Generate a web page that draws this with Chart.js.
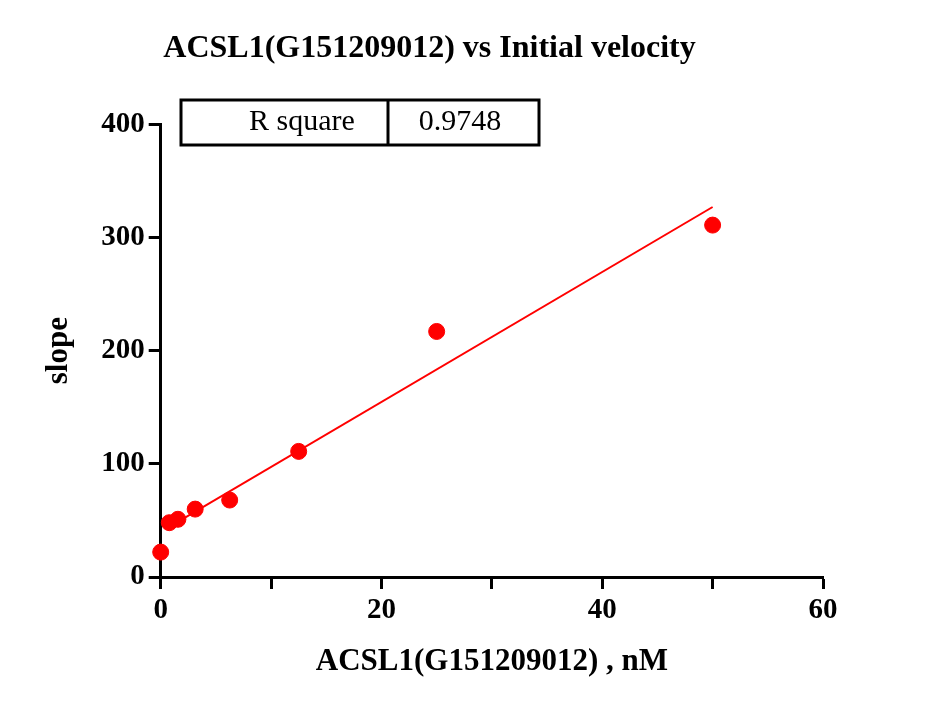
<!DOCTYPE html>
<html><head><script src="https://cdn.jsdelivr.net/npm/chart.js@4/dist/chart.umd.min.js"></script>
<style>body{margin:0;background:#fff}</style></head>
<body><canvas id="c" width="935" height="712"></canvas>
<script>
const xValues=[0,0.78,1.56,3.125,6.25,12.5,25,50];
const yValues=[22,48,51,60,68,111,217,311];
const xTicks=[0,10,20,30,40,50,60];
const yTicks=[0,100,200,300,400];
const rSquare="0.9748";
const n=xValues.length;
const mx=xValues.reduce((a,b)=>a+b)/n, my=yValues.reduce((a,b)=>a+b)/n;
let sxy=0,sxx=0;for(let i=0;i<n;i++){sxy+=(xValues[i]-mx)*(yValues[i]-my);sxx+=(xValues[i]-mx)**2;}
const b=sxy/sxx,a=my-b*mx;
const fitX=[0.78,50];
const font='"Liberation Serif", serif';
const boxPlugin={id:'box',afterDraw(c){const g=c.ctx;g.save();g.lineWidth=3;g.strokeStyle='#000';
g.strokeRect(181,100,358,45);g.beginPath();g.moveTo(388,100);g.lineTo(388,145);g.stroke();
g.fillStyle='#000';g.font='30px '+font;g.textAlign='center';g.textBaseline='middle';
g.fillText('R square',302,122);g.fillText(rSquare,460,122);g.restore();}};
const grid={display:true,drawOnChartArea:false,drawTicks:true,tickLength:12,tickWidth:3,tickColor:'#000'};
new Chart(document.getElementById('c'),{type:'scatter',
data:{datasets:[
{data:xValues.map((x,i)=>({x,y:yValues[i]})),backgroundColor:'#f00',borderColor:'#f00',pointRadius:8,pointHoverRadius:8,clip:false},
{type:'line',data:fitX.map(x=>({x,y:a+b*x})),borderColor:'#f00',borderWidth:2,pointRadius:0,fill:false}]},
options:{responsive:false,animation:false,
layout:{padding:{top:10,right:112,left:36,bottom:27}},
plugins:{legend:{display:false},tooltip:{enabled:false},
title:{display:true,text:'ACSL1(G151209012) vs Initial velocity',color:'#000',font:{family:font,size:32,weight:'bold'},padding:{top:20,bottom:56}}},
scales:{
x:{type:'linear',min:0,max:60,afterBuildTicks:s=>{s.ticks=xTicks.map(v=>({value:v}))},
ticks:{color:'#000',font:{family:font,size:29,weight:'bold'},callback:v=>v%20===0?v:'',padding:4,maxRotation:0},
grid:grid,border:{color:'#000',width:3},
title:{display:true,text:'ACSL1(G151209012) , nM',color:'#000',font:{family:font,size:31,weight:'bold'},padding:{top:12}}},
y:{type:'linear',min:0,max:400,afterBuildTicks:s=>{s.ticks=yTicks.map(v=>({value:v}))},
ticks:{color:'#000',font:{family:font,size:29,weight:'bold'},padding:4},
grid:grid,border:{color:'#000',width:3},
title:{display:true,text:'slope',color:'#000',font:{family:font,size:31,weight:'bold'},padding:{bottom:20}}}}},
plugins:[boxPlugin]});
</script></body></html>
